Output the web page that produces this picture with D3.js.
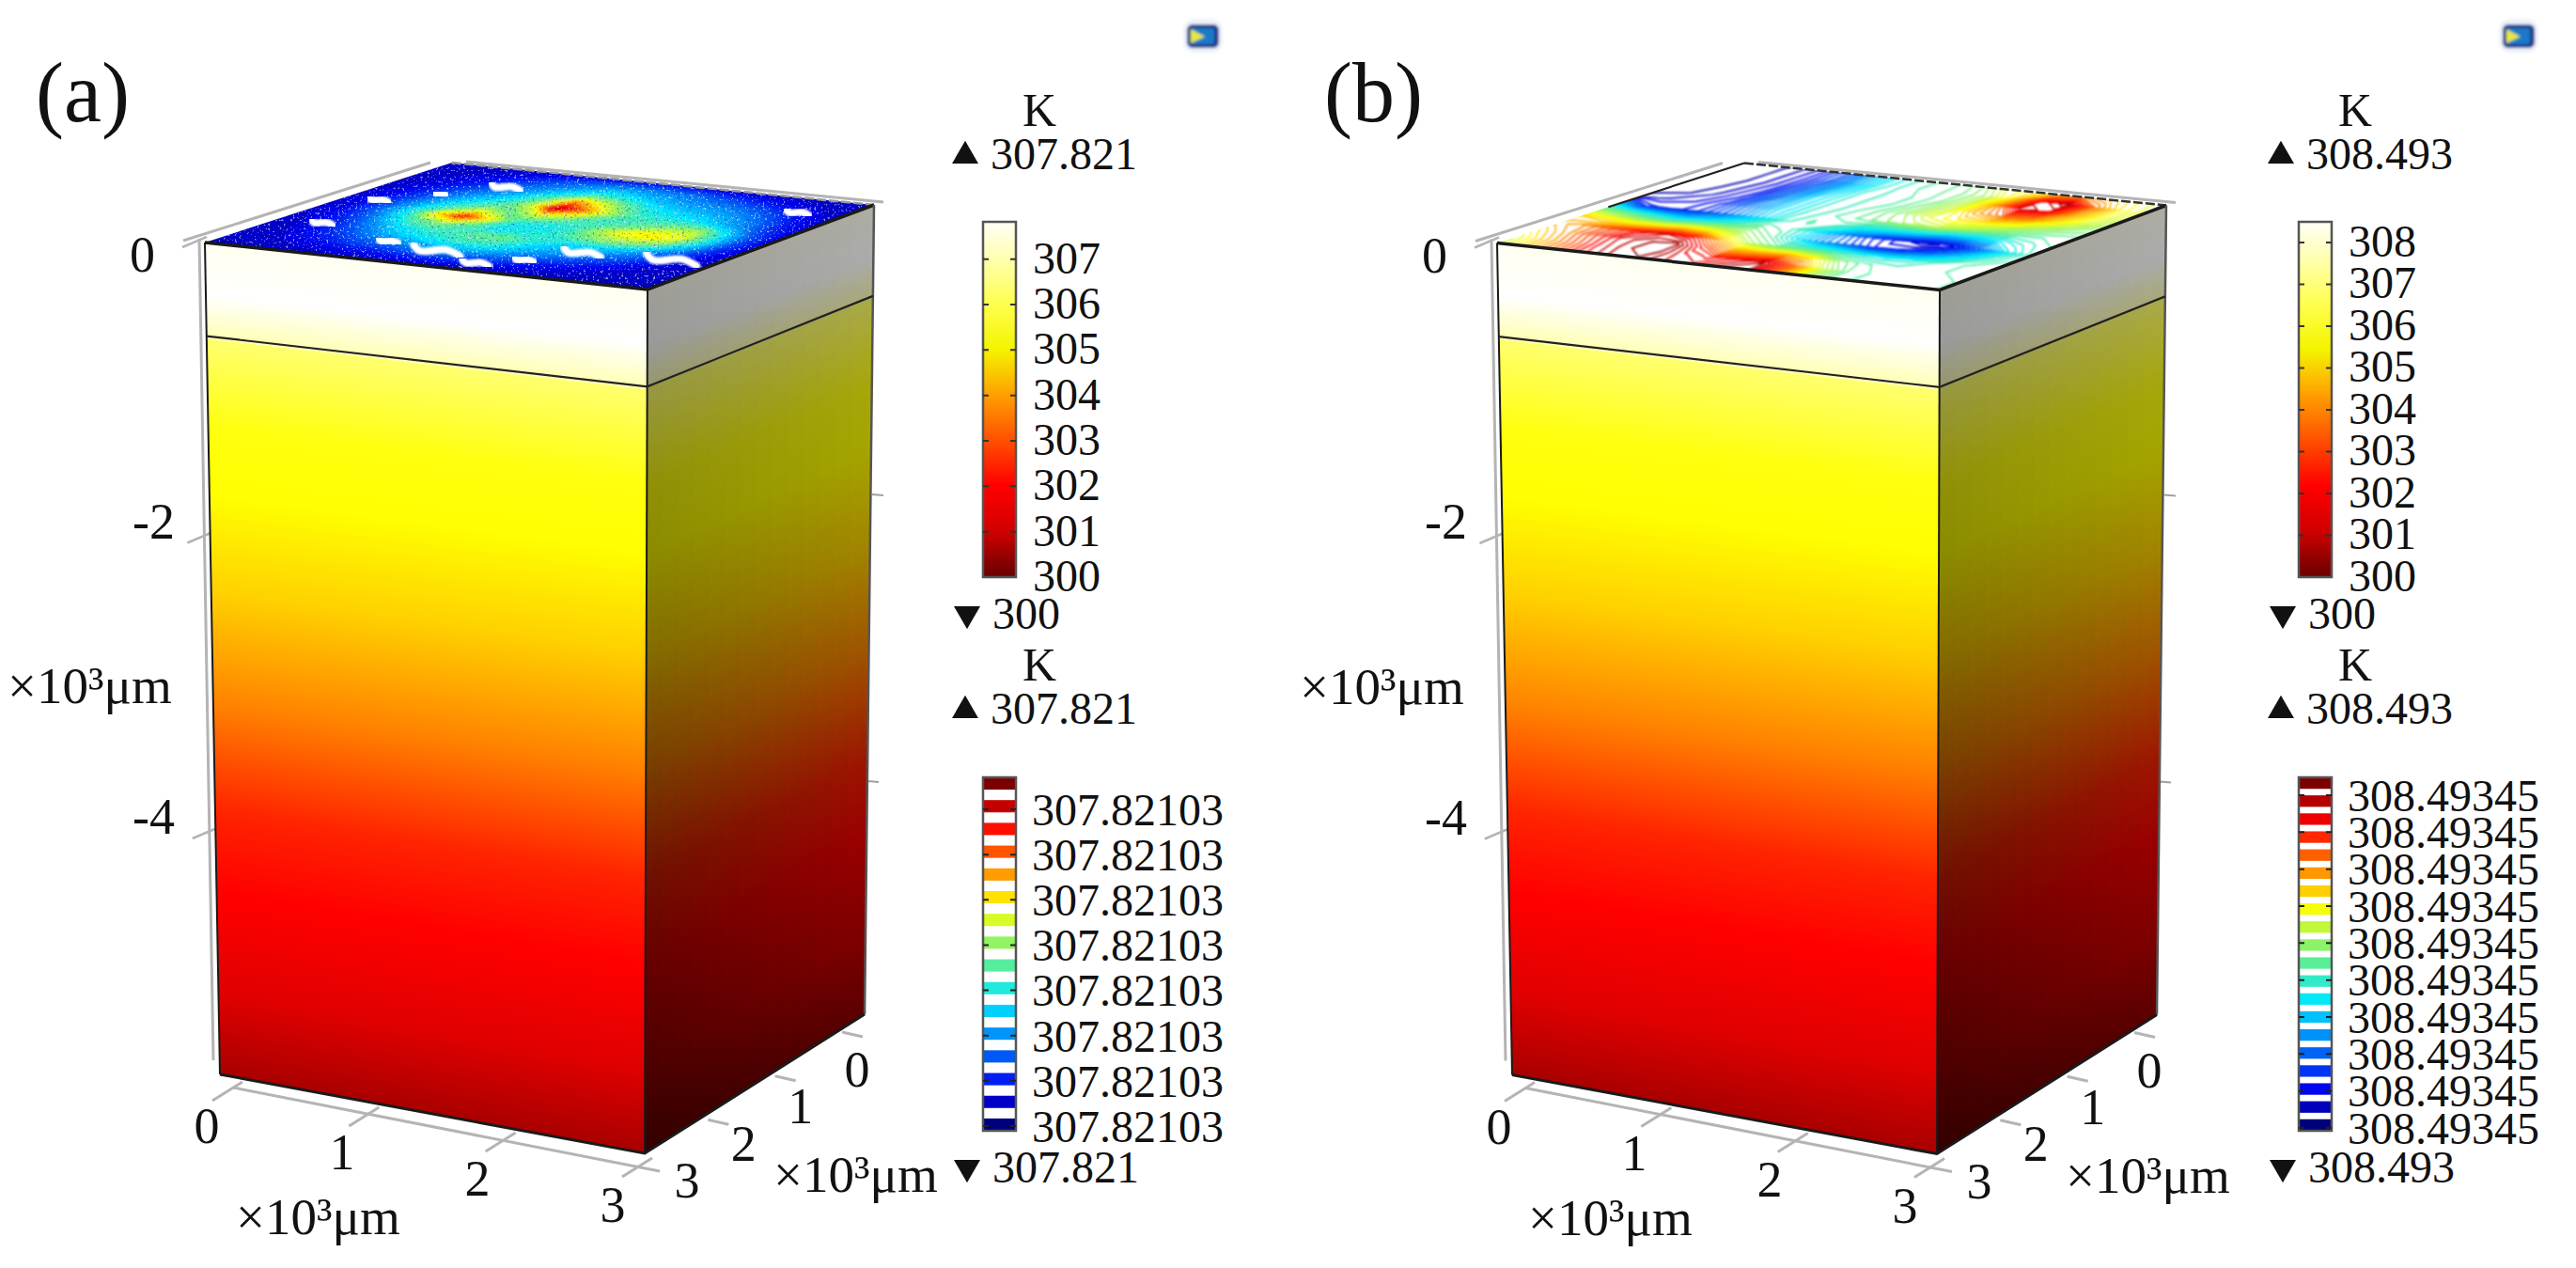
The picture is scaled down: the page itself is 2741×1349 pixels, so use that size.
<!DOCTYPE html>
<html>
<head>
<meta charset="utf-8">
<script src="https://cdn.jsdelivr.net/npm/d3@7"></script>
<style>
  html, body { margin: 0; padding: 0; background: #fff; }
  svg { display: block; }
  text { font-family: "Liberation Serif", serif; fill: #111; }
</style>
</head>
<body>
<div id="chart"></div>
<script>
// ---- values ----
var panelNames = ["(a)", "(b)"];
var zTicks = [0, -2, -4];
var xyTicks = [0, 1, 2, 3];
var axisUnit = "×10³μm";

var maxA = 307.821, minA = 300;
var maxB = 308.493, minB = 300;
var barTicksA = [300, 301, 302, 303, 304, 305, 306, 307];
var barTicksB = [300, 301, 302, 303, 304, 305, 306, 307, 308];
var topMaxLabelA = "307.821", topMinLabelA = "300";
var topMaxLabelB = "308.493", topMinLabelB = "300";
var surfLabelA = "307.82103", surfLabelB = "308.49345";
var surfTickCountA = 8, surfTickCountB = 10;
var surfBandCountA = 16, surfBandCountB = 20;

// temperature of the block against relative depth (0 top, 1 bottom)
var depthStops = [0, 0.06, 0.112, 0.1125, 0.22, 0.3, 0.42, 0.55, 0.68, 0.78, 0.9, 1];
var depthColors = ["#fffff0", "#ffffff", "#ffffb4", "#ffff70", "#ffff10", "#ffff00", "#ffd000", "#ff8400", "#ff2400", "#ff0000", "#e00000", "#a80000"];

// brightness of the side face, at its front edge and its far edge
var sideStops = [0, .3, .75, 1];
var sideNear = [.62, .55, .42, .3];
var sideFar = [.68, .65, .62, .55];

// colour bar of the block, K
var barStops = [300, 300.4, 301, 302, 303, 304, 305, 306, 307, 307.8];
var barColors = ["#6a0000", "#900000", "#d00000", "#ff0000", "#ff5000", "#ffa000", "#f4f400", "#ffff50", "#ffffb0", "#fffff6"];

// relative level on the top surface, rows go back edge -> front edge
var surfaceA = [
  [.07, .07, .07, .07, .08, .09, .10, .10, .10, .10, .09, .08, .08, .07, .07, .07, .07],
  [.07, .07, .09, .12, .16, .20, .24, .28, .28, .26, .24, .20, .16, .13, .10, .08, .07],
  [.07, .09, .12, .16, .22, .28, .34, .42, .40, .34, .30, .28, .26, .22, .16, .11, .07],
  [.07, .10, .15, .22, .28, .36, .50, .76, .62, .48, .38, .34, .32, .28, .22, .14, .08],
  [.08, .11, .18, .28, .36, .44, .60, .97, .78, .58, .44, .42, .40, .34, .26, .16, .09],
  [.08, .12, .22, .34, .46, .60, .50, .62, .56, .46, .44, .50, .56, .58, .38, .20, .09],
  [.08, .12, .24, .40, .68, .88, .66, .42, .40, .42, .56, .66, .68, .64, .42, .20, .09],
  [.08, .12, .20, .34, .48, .54, .46, .38, .40, .42, .50, .56, .56, .48, .32, .16, .08],
  [.07, .10, .16, .26, .36, .42, .46, .50, .50, .42, .36, .36, .34, .28, .20, .12, .07],
  [.07, .09, .14, .20, .28, .34, .38, .42, .42, .36, .30, .28, .24, .20, .14, .09, .07],
  [.07, .07, .12, .15, .20, .22, .26, .28, .28, .26, .22, .18, .15, .12, .09, .07, .07],
  [.07, .07, .08, .10, .12, .13, .15, .16, .16, .15, .13, .10, .09, .08, .07, .07, .07],
  [.06, .06, .06, .06, .07, .07, .07, .07, .07, .07, .07, .06, .06, .06, .06, .06, .06]
];
var surfaceB = [
  [.02, .03, .05, .10, .18, .30, .40, .45, .47, .52, .62, .66, .72, .74, .70, .64, .60],
  [.02, .03, .05, .10, .18, .30, .40, .45, .47, .50, .56, .68, .90, .96, .78, .66, .60],
  [.02, .03, .05, .10, .20, .32, .41, .44, .46, .50, .58, .74, .94, .90, .74, .64, .58],
  [.02, .03, .06, .11, .22, .34, .41, .44, .46, .52, .60, .72, .80, .78, .68, .60, .54],
  [.03, .04, .07, .12, .24, .34, .41, .44, .48, .54, .62, .66, .66, .62, .56, .52, .50],
  [.06, .07, .09, .14, .24, .34, .41, .45, .48, .52, .56, .58, .54, .50, .47, .46, .46],
  [.30, .12, .10, .14, .22, .32, .42, .46, .44, .38, .36, .34, .28, .30, .36, .42, .46],
  [.55, .48, .40, .34, .38, .44, .48, .44, .36, .24, .14, .08, .05, .08, .20, .36, .45],
  [.70, .66, .62, .62, .66, .62, .56, .48, .36, .26, .18, .10, .12, .20, .32, .42, .46],
  [.72, .76, .82, .88, .92, .86, .70, .56, .48, .46, .44, .40, .38, .40, .44, .46, .47],
  [.66, .74, .84, .92, .96, .98, .84, .72, .72, .74, .66, .52, .46, .44, .44, .46, .47],
  [.60, .70, .80, .90, .96, .98, .90, .86, .90, .94, .80, .60, .48, .45, .44, .44, .46],
  [.58, .68, .78, .88, .94, .96, .92, .90, .94, .96, .78, .58, .48, .45, .44, .44, .46]
];
// holes in the map of (a): position along the front edge, towards the back, half length
var holeU = [.096, .075, .152, .231, .309, .44, .57, .64, .707, .90, .896];
var holeV = [.303, .573, .689, .818, .194, .153, .076, .153, .275, .295, .856];
var holeLen = [.032, .03, .018, .045, .03, .07, .04, .03, .055, .075, .035];

var jetStops = [0, .1, .36, .5, .64, .88, 1];
var jetColors = ["#00007c", "#0000f0", "#00e8ff", "#70f080", "#ffff00", "#ff0000", "#7c0000"];

// ---- set up ----
var svg = d3.select("#chart").append("svg")
    .attr("width", 2741)
    .attr("height", 1349);

var depthColor = d3.scaleLinear().domain(depthStops).range(depthColors);
var barColor = d3.scaleLinear().domain(barStops).range(barColors);
var jet = d3.scaleLinear().domain(jetStops).range(jetColors);
var nearShade = d3.scaleLinear().domain(sideStops).range(sideNear);
var farShade = d3.scaleLinear().domain(sideStops).range(sideFar);

// corners of the block, panel (a); panel (b) is the same block moved over
var frontLeft = [218, 258], frontMid = [689, 308], backRight = [930, 218], backLeft = [481, 173];
var botLeft = [234, 1143], botMid = [686, 1227], botRight = [920, 1079];

var defs = svg.append("defs");
defs.append("filter").attr("id", "soft").append("feGaussianBlur").attr("stdDeviation", 0.9);
defs.append("filter").attr("id", "softer").append("feGaussianBlur").attr("stdDeviation", 0.9);
defs.append("filter").attr("id", "softest").append("feGaussianBlur").attr("stdDeviation", 1.6);

function speckleFilter(id, r, g, b, seed, gain, offset) {
  var f = defs.append("filter").attr("id", id)
      .attr("x", 0).attr("y", 0).attr("width", 1).attr("height", 1);
  f.append("feTurbulence").attr("type", "fractalNoise").attr("baseFrequency", 0.42)
      .attr("numOctaves", 2).attr("seed", seed);
  f.append("feColorMatrix").attr("type", "matrix")
      .attr("values", "0 0 0 0 " + r + " 0 0 0 0 " + g + " 0 0 0 0 " + b + " " + gain + " 0 0 0 " + offset);
  f.append("feComposite").attr("operator", "in").attr("in2", "SourceAlpha");
  f.append("feGaussianBlur").attr("stdDeviation", 0.5);
}
speckleFilter("speckleLight", 0.8, 0.92, 1, 4, 9, -5.6);
speckleFilter("speckleDark", 0, 0, 0.6, 9, 9, -5.6);

function lerp(a, b, t) {
  return [a[0] + (b[0] - a[0]) * t, a[1] + (b[1] - a[1]) * t];
}
// u along the front edge, v towards the back
function surfacePoint(u, v) {
  return lerp(lerp(frontLeft, frontMid, u), lerp(backLeft, backRight, u), v);
}
function polyPath(pts) {
  return "M" + pts.map(function(p) { return p[0] + "," + p[1]; }).join("L") + "Z";
}

function drawFrontFace(g, tl, tr, bl, br) {
  g.selectAll(null)
      .data(d3.range(0, 1, 0.004))
    .enter().append("path")
      .attr("d", function(t) {
        var t2 = Math.min(1, t + 0.006);
        return polyPath([lerp(tl, bl, t), lerp(tr, br, t), lerp(tr, br, t2), lerp(tl, bl, t2)]);
      })
      .attr("fill", function(t) { return depthColor(t); });
}

function drawSideFace(g, tl, tr, bl, br) {
  var cells = d3.cross(d3.range(0, 1, 0.006), d3.range(0, 1, 0.07));
  g.selectAll(null)
      .data(cells)
    .enter().append("path")
      .attr("d", function(d) {
        var t = d[0], s = d[1];
        var t2 = Math.min(1, t + 0.008), s2 = Math.min(1, s + 0.08);
        var a = lerp(tl, bl, t), b = lerp(tr, br, t), c = lerp(tr, br, t2), e = lerp(tl, bl, t2);
        return polyPath([lerp(a, b, s), lerp(a, b, s2), lerp(e, c, s2), lerp(e, c, s)]);
      })
      .attr("fill", function(d) {
        var c = d3.rgb(depthColor(d[0]));
        var k = nearShade(d[0]) + (farShade(d[0]) - nearShade(d[0])) * d[1];
        return d3.rgb(c.r * k, c.g * k, c.b * k).formatRgb();
      });
}

function drawBlock(g, panelIndex) {
  var clipId = "topClip" + panelIndex;
  var topOutline = [frontLeft, frontMid, backRight, backLeft];

  // grey axes behind the block
  var grey = g.append("g").attr("fill", "none").attr("stroke", "#b4b4b4").attr("stroke-width", 3);
  grey.append("path").attr("d", d3.line()([[195, 256], [458, 173]]));
  grey.append("path").attr("d", d3.line()([[496, 172], [940, 215]]));
  grey.append("path").attr("d", d3.line()([[212, 254], [227, 1128]]));

  var z = d3.scaleLinear().domain([0, -4]).range([254, 883]);
  var zx = d3.scaleLinear().domain([254, 1128]).range([212, 227]);
  var zTick = g.selectAll(".ztick").data(zTicks).enter().append("g");
  zTick.append("line")
      .attr("x1", function(d) { return zx(z(d)) - 18; })
      .attr("x2", function(d) { return zx(z(d)) + 8; })
      .attr("y1", function(d) { return z(d) + 9; })
      .attr("y2", function(d) { return z(d) - 2; })
      .attr("stroke", "#b4b4b4").attr("stroke-width", 2.5);
  zTick.append("text")
      .attr("x", 186)
      .attr("y", function(d) { return z(d) + (d === 0 ? 35 : 4); })
      .attr("text-anchor", "end")
      .attr("dx", function(d) { return d === 0 ? -21 : 0; })
      .attr("font-size", 54)
      .text(function(d) { return d; });
  g.append("text").attr("x", 8).attr("y", 748).attr("font-size", 55).text(axisUnit);

  // short ticks on the far edge
  var zFar = d3.scaleLinear().domain([-2, -4]).range([526, 831]);
  g.selectAll(null).data(zTicks.slice(1)).enter().append("line")
      .attr("x1", function(d) { return d === -2 ? 928 : 923; })
      .attr("x2", function(d) { return d === -2 ? 940 : 935; })
      .attr("y1", function(d) { return zFar(d); })
      .attr("y2", function(d) { return zFar(d) + 1; })
      .attr("stroke", "#a0a0a0").attr("stroke-width", 2);

  // ground axes
  var xAxis = d3.scaleLinear().domain([0, 3]);
  var xx = xAxis.copy().range([248, 684]), xy = xAxis.copy().range([1157, 1238]);
  var yx = xAxis.copy().range([898, 684]), yy = xAxis.copy().range([1098, 1238]);
  var ground = g.append("g").attr("stroke", "#b4b4b4").attr("stroke-width", 3);
  ground.append("line").attr("x1", xx(0)).attr("y1", xy(0)).attr("x2", 702).attr("y2", 1246);
  ground.selectAll(null).data(xyTicks).enter().append("line")
      .attr("x1", function(d) { return xx(d) + 10; }).attr("y1", function(d) { return xy(d) - 6; })
      .attr("x2", function(d) { return xx(d) - 22; }).attr("y2", function(d) { return xy(d) + 14; });
  ground.selectAll(null).data(xyTicks.slice(0, 3)).enter().append("line")
      .attr("x1", function(d) { return yx(d) - 2; }).attr("y1", function(d) { return yy(d); })
      .attr("x2", function(d) { return yx(d) + 20; }).attr("y2", function(d) { return yy(d) + 5; });

  var xLabelX = xAxis.copy().range([220, 652]), xLabelY = xAxis.copy().range([1216, 1300]);
  var yLabelX = xAxis.copy().range([912, 731]), yLabelY = xAxis.copy().range([1156, 1274]);
  g.selectAll(null).data(xyTicks).enter().append("text")
      .attr("x", function(d) { return xLabelX(d); })
      .attr("y", function(d) { return xLabelY(d); })
      .attr("text-anchor", "middle").attr("font-size", 54)
      .text(function(d) { return d; });
  g.selectAll(null).data(xyTicks).enter().append("text")
      .attr("x", function(d) { return yLabelX(d); })
      .attr("y", function(d) { return yLabelY(d); })
      .attr("text-anchor", "middle").attr("font-size", 54)
      .text(function(d) { return d; });
  g.append("text").attr("x", 251).attr("y", 1313).attr("font-size", 55).text(axisUnit);
  g.append("text").attr("x", 823).attr("y", 1268).attr("font-size", 55).text(axisUnit);

  // faces
  drawFrontFace(g.append("g"), frontLeft, frontMid, botLeft, botMid);
  drawSideFace(g.append("g"), frontMid, backRight, botMid, botRight);

  // top surface
  g.append("clipPath").attr("id", clipId).append("path").attr("d", polyPath(topOutline));
  var top = g.append("g").attr("clip-path", "url(#" + clipId + ")");
  var grid = panelIndex === 0 ? surfaceA : surfaceB;
  var nRows = grid.length, nCols = grid[0].length;
  var values = d3.merge(grid);
  var uScale = d3.scaleLinear().domain([0.5, nCols - 0.5]).range([0, 1]);
  var vScale = d3.scaleLinear().domain([0.5, nRows - 0.5]).range([1, 0]);
  var projection = d3.geoTransform({
    point: function(x, y) {
      var p = surfacePoint(uScale(x), vScale(y));
      this.stream.point(p[0], p[1]);
    }
  });
  var path = d3.geoPath(projection);

  if (panelIndex === 0) {
    var contoursA = d3.contours().size([nCols, nRows]).thresholds(d3.range(0.04, 1, 0.025))(values);
    var map = top.append("g").attr("filter", "url(#soft)");
    map.append("path").attr("d", polyPath(topOutline)).attr("fill", jet(0.07));
    map.selectAll(null).data(contoursA).enter().append("path")
        .attr("d", path)
        .attr("fill", function(d) { return jet(d.value); });
    top.append("path").attr("d", polyPath(topOutline)).attr("filter", "url(#speckleDark)").attr("opacity", 0.35);
    top.append("path").attr("d", polyPath(topOutline)).attr("filter", "url(#speckleLight)").attr("opacity", 0.6);
    top.selectAll(null).data(holeU).enter().append("path")
        .attr("d", function(d, i) {
          var l = holeLen[i];
          return d3.line().curve(d3.curveCatmullRom)([
            surfacePoint(d - l, holeV[i] + l * 0.5),
            surfacePoint(d - l * 0.4, holeV[i] - l * 0.25),
            surfacePoint(d + l * 0.2, holeV[i] + l * 0.25),
            surfacePoint(d + l, holeV[i] - l * 0.4)
          ]);
        })
        .attr("fill", "none").attr("stroke", "#fff").attr("stroke-width", 8)
        .attr("stroke-linecap", "round").attr("stroke-linejoin", "round")
        .attr("filter", "url(#soft)");
  } else {
    var contoursB = d3.contours().size([nCols, nRows]).smooth(true).thresholds(d3.range(0.02, 1, 0.023))(values);
    top.append("path").attr("d", polyPath(topOutline)).attr("fill", "#fff");
    var lines = top.append("g").attr("filter", "url(#softer)");
    lines.selectAll(null).data(contoursB).enter().append("path")
        .attr("d", path)
        .attr("fill", "none")
        .attr("stroke-width", 1.7)
        .attr("stroke", function(d) { return jet(d.value); });
  }

  // edges
  var edges = g.append("g").attr("fill", "none").attr("stroke", "#1a1a1a");
  edges.append("path").attr("stroke-width", 2.5).attr("stroke", panelIndex === 0 ? "#9a9a9a" : "#333")
      .attr("stroke-dasharray", "10 3")
      .attr("d", d3.line()([backLeft, backRight]));
  if (panelIndex === 1) {
    edges.append("path").attr("stroke-width", 2.2).attr("stroke", "#222").attr("d", d3.line()([lerp(frontLeft, backLeft, 0.45), backLeft]));
  }
  edges.append("path").attr("stroke-width", 3.5).attr("d", d3.line()([frontLeft, frontMid, backRight]));
  edges.append("path").attr("stroke-width", 2).attr("d", d3.line()([botLeft, frontLeft]));
  edges.append("path").attr("stroke-width", 2).attr("d", d3.line()([frontMid, botMid]));
  edges.append("path").attr("stroke-width", 2.5).attr("stroke", "#555").attr("d", d3.line()([backRight, botRight]));
  edges.append("path").attr("stroke-width", 3).attr("d", d3.line()([botLeft, botMid, botRight]));
  var divide = 0.1125;
  edges.append("path").attr("stroke-width", 2.2).attr("stroke", "#222").attr("d", d3.line()([
    lerp(frontLeft, botLeft, divide), lerp(frontMid, botMid, divide), lerp(backRight, botRight, divide)
  ]));
}

function drawBoundLabels(g, yOff, maxLabel, minLabel, minBaseline) {
  var tri = d3.symbol().type(d3.symbolTriangle).size(340);
  g.append("text").attr("x", 1106).attr("y", yOff - 46).attr("text-anchor", "middle").attr("font-size", 50).text("K");
  g.append("path").attr("d", tri()).attr("transform", "translate(1027," + (yOff - 14) + ")").attr("fill", "#111");
  g.append("text").attr("x", 1054).attr("y", yOff).attr("font-size", 48).text(maxLabel);
  g.append("path").attr("d", tri()).attr("transform", "translate(1029," + (minBaseline - 16) + ") rotate(180)").attr("fill", "#111");
  g.append("text").attr("x", 1056).attr("y", minBaseline).attr("font-size", 48).text(minLabel);
}

function drawTemperatureBar(g, lo, hi, ticks) {
  var y = d3.scaleLinear().domain([lo, hi]).range([614, 236]);
  var toBar = d3.scaleLinear().domain([lo, hi]).range([300, 307.8]);
  var steps = d3.range(lo, hi, 0.02);
  g.selectAll(null).data(steps).enter().append("rect")
      .attr("x", 1046).attr("width", 35)
      .attr("y", function(d) { return y(d + 0.02) - 0.5; })
      .attr("height", y(lo) - y(lo + 0.02) + 1)
      .attr("fill", function(d) { return barColor(toBar(d)); });
  g.append("rect").attr("x", 1046).attr("y", 236).attr("width", 35).attr("height", 378)
      .attr("fill", "none").attr("stroke", "#555").attr("stroke-width", 2.5);
  var axis = d3.axisRight(y).tickValues(ticks).tickSize(0).tickPadding(0).tickFormat(d3.format("d"));
  var ax = g.append("g").attr("transform", "translate(1099,0)").call(axis);
  ax.select(".domain").remove();
  ax.selectAll("text").attr("font-size", 48).attr("fill", "#111").attr("dy", "0.3em");
  g.selectAll(null).data(ticks.slice(1)).enter().append("path")
      .attr("d", function(d) { return "M1046," + y(d) + "h6M1075," + y(d) + "h6"; })
      .attr("stroke", "#333").attr("stroke-width", 2);
}

function drawSurfaceBar(g, label, tickCount, bandCount, firstLabelY, lastLabelY) {
  var band = d3.scaleBand().domain(d3.range(bandCount)).range([1203, 827]).paddingInner(bandCount === 16 ? 0.46 : 0.36);
  g.append("rect").attr("x", 1046).attr("y", 827).attr("width", 35).attr("height", 376).attr("fill", "#fff");
  g.selectAll(null).data(d3.range(bandCount)).enter().append("rect")
      .attr("x", 1046).attr("width", 35)
      .attr("y", function(d) { return band(d); })
      .attr("height", band.bandwidth())
      .attr("fill", function(d) { return jet(d / (bandCount - 1)); });
  g.append("rect").attr("x", 1046).attr("y", 827).attr("width", 35).attr("height", 376)
      .attr("fill", "none").attr("stroke", "#555").attr("stroke-width", 2.5);
  var y = d3.scaleLinear().domain([0, tickCount - 1]).range([lastLabelY, firstLabelY]);
  var ticks = d3.range(tickCount);
  var axis = d3.axisRight(y).tickValues(ticks).tickSize(0).tickPadding(0).tickFormat(function() { return label; });
  var ax = g.append("g").attr("transform", "translate(1098,0)").call(axis);
  ax.select(".domain").remove();
  ax.selectAll("text").attr("font-size", 48).attr("fill", "#111").attr("dy", "0.34em");
  g.selectAll(null).data(ticks).enter().append("path")
      .attr("d", function(d) { return "M1046," + y(d) + "h6M1075," + y(d) + "h6"; })
      .attr("stroke", "#222").attr("stroke-width", 2);
}

function drawLogo(g, x, y) {
  var logo = g.append("g").attr("transform", "translate(" + x + "," + y + ")").attr("filter", "url(#softest)");
  logo.append("rect").attr("x", -21).attr("y", -18).attr("width", 42).attr("height", 36).attr("rx", 12).attr("fill", "#eef2f8");
  logo.append("rect").attr("x", -17).attr("y", -12).attr("width", 34).attr("height", 25).attr("rx", 6).attr("fill", "#1a3c8c");
  logo.append("rect").attr("x", -13).attr("y", -8).attr("width", 25).attr("height", 17).attr("rx", 3).attr("fill", "#1f78c8");
  logo.append("path").attr("d", "M-13,-7L2,1L-13,8Z").attr("fill", "#e4e840");
}

// ---- panels ----
panelNames.forEach(function(name, i) {
  var blockG = svg.append("g").attr("transform", "translate(" + (i * 1375) + "," + (i * 0.5) + ")");
  drawBlock(blockG, i);
  var side = svg.append("g").attr("transform", "translate(" + (i * 1400) + ",0)");
  if (i === 0) {
    drawTemperatureBar(side, minA, maxA, barTicksA);
    drawSurfaceBar(side, surfLabelA, surfTickCountA, surfBandCountA, 861, 1198);
    drawBoundLabels(side, 180, topMaxLabelA, topMinLabelA, 669);
    drawBoundLabels(side, 770, topMaxLabelA, topMaxLabelA, 1258);
  } else {
    drawTemperatureBar(side, minB, maxB, barTicksB);
    drawSurfaceBar(side, surfLabelB, surfTickCountB, surfBandCountB, 846, 1200);
    drawBoundLabels(side, 180, topMaxLabelB, topMinLabelB, 669);
    drawBoundLabels(side, 770, topMaxLabelB, topMaxLabelB, 1258);
  }
  svg.append("text").attr("x", i === 0 ? 38 : 1409).attr("y", 129).attr("font-size", 90).text(name);
  drawLogo(svg, i === 0 ? 1280 : 2680, 38);
});
</script>
</body>
</html>
